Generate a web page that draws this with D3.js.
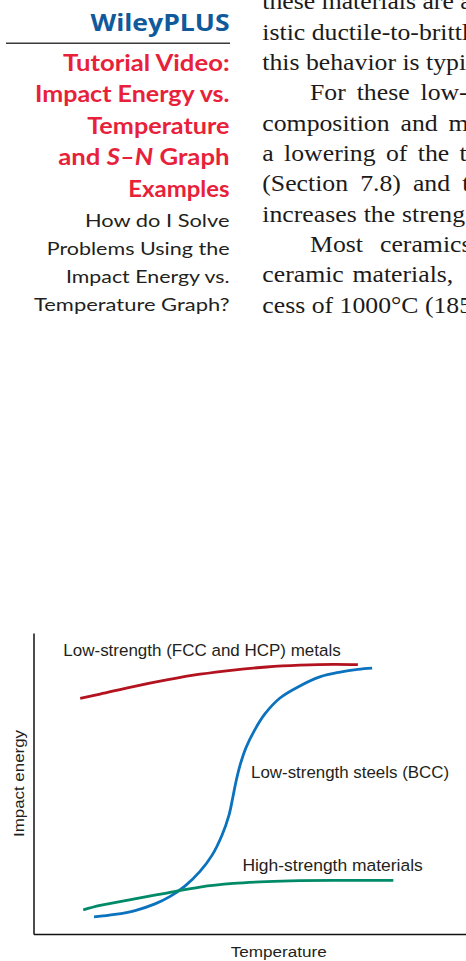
<!DOCTYPE html>
<html><head><meta charset="utf-8">
<script src="https://cdn.jsdelivr.net/npm/d3@7"></script>
<style>html,body{margin:0;padding:0;background:#fff;overflow:hidden}svg{display:block}</style>
</head><body><svg id="c" width="466" height="961"></svg>
<script>
// ---------- data ----------
const brand = "WileyPLUS";
const sidebarTitle = ["Tutorial Video:", "Impact Energy vs.", "Temperature", "and |S–N| Graph", "Examples"];
const sidebarCaption = ["How do I Solve", "Problems Using the", "Impact Energy vs.", "Temperature Graph?"];
const bodyLines = [
  "these materials are a", "istic ductile-to-brittl", "this behavior is typi",
  "For these low-", "composition and m", "a lowering of the t",
  "(Section 7.8) and t", "increases the streng", "Most ceramics",
  "ceramic materials,", "cess of 1000°C (185"
];

const seriesNames = ["Low-strength (FCC and HCP) metals", "Low-strength steels (BCC)", "High-strength materials"];
const xAxisLabel = "Temperature";
const yAxisLabel = "Impact energy";

// relative temperature / impact energy (arbitrary units, 0–100)
const fccTemp   = [10.8, 15.4, 23.1, 30.8, 38.5, 46.2, 53.9, 61.6, 69.3, 75.0];
const fccEnergy = [78.3, 79.7, 82.2, 84.4, 86.3, 87.7, 88.7, 89.3, 89.6, 89.5];

const bccTemp   = [14.0, 18.8, 23.5, 28.1, 31.6, 35.0, 38.5, 41.3, 43.6, 45.2, 46.1, 46.8, 47.7, 49.1, 51.0, 53.5, 57.0, 61.6, 66.2, 70.9, 75.0, 78.3];
const bccEnergy = [5.7, 6.5, 7.8, 10.0, 12.5, 15.9, 20.8, 26.2, 32.9, 39.5, 45.5, 50.5, 55.8, 61.8, 67.4, 73.1, 78.4, 82.4, 85.4, 87.0, 87.9, 88.3];

const hsTemp   = [11.5, 15.4, 23.1, 30.8, 38.5, 46.2, 53.9, 61.6, 69.3, 77.0, 83.2];
const hsEnergy = [8.0, 9.5, 11.6, 13.6, 15.6, 16.8, 17.4, 17.7, 17.8, 17.8, 17.8];

// ---------- layout ----------
const bodyIndent = [0, 0, 0, 47.7, 0, 0, 0, 0, 47.7, 0, 0];
const bodyWordSpacing = [0, 0, 0, 4, 4, 3.5, 5, 0.5, 9.5, 2, 0];
const titleWidths = [166.5, 194.5, 142.2, 171.2, 101.2];
const capWidths = [144.5, 182.8, 163.5, 195.5];

// ---------- drawing ----------
const svg = d3.select("#c");
svg.append("rect").attr("width", 466).attr("height", 961).attr("fill", "#fff");

// Sidebar
const side = svg.append("g");
side.append("text").text(brand)
  .attr("x", 229.5).attr("y", 30.7).attr("text-anchor", "end")
  .attr("font-family", "'Open Sans', sans-serif").attr("font-weight", 700)
  .attr("font-size", 24).attr("fill", "#10599a")
  .attr("textLength", 139).attr("lengthAdjust", "spacingAndGlyphs");
side.append("line").attr("x1", 6).attr("x2", 230).attr("y1", 43.3).attr("y2", 43.3)
  .attr("stroke", "#3a3a3a").attr("stroke-width", 1.4);

sidebarTitle.forEach((t, i) => {
  const tx = side.append("text")
    .attr("x", 229.5).attr("y", 70.7 + i * 31.5).attr("text-anchor", "end")
    .attr("font-family", "Lato, sans-serif").attr("font-weight", 700)
    .attr("font-size", 23).attr("fill", "#e8213a")
    .attr("textLength", titleWidths[i]).attr("lengthAdjust", "spacingAndGlyphs");
  t.split("|").forEach((seg, k) => {
    tx.append("tspan").text(seg).attr("font-style", k % 2 ? "italic" : "normal");
  });
});
sidebarCaption.forEach((t, i) => {
  side.append("text").text(t)
    .attr("x", 229.5).attr("y", 227.3 + i * 28).attr("text-anchor", "end")
    .attr("font-family", "Lato, sans-serif").attr("font-weight", 400)
    .attr("font-size", 17.5).attr("fill", "#231f20")
    .attr("textLength", capWidths[i]).attr("lengthAdjust", "spacingAndGlyphs");
});

// Body text column
const body = svg.append("g");
bodyLines.forEach((t, i) => {
  body.append("text").text(t)
    .attr("transform", `translate(${262.3 + bodyIndent[i]},${9.3 + i * 30.35}) scale(1.12,1)`)
    .attr("font-family", "'Liberation Serif', serif")
    .attr("font-size", 23).attr("fill", "#1c1a1a")
    .attr("word-spacing", bodyWordSpacing[i]);
});

// Chart
const x = d3.scaleLinear().domain([0, 100]).range([33.5, 466]);
const y = d3.scaleLinear().domain([0, 100]).range([934, 633]);
const chart = svg.append("g");

chart.append("g").attr("transform", `translate(0,${y(0)})`)
  .call(d3.axisBottom(x).tickValues([]).tickSizeOuter(0))
  .call(g => g.select(".domain").attr("stroke", "#111").attr("stroke-width", 1.5));
chart.append("g").attr("transform", `translate(${x(0)},0)`)
  .call(d3.axisLeft(y).tickValues([]).tickSizeOuter(0))
  .call(g => g.select(".domain").attr("stroke", "#111").attr("stroke-width", 1.5));

const series = [
  { name: seriesNames[0], t: fccTemp, e: fccEnergy, color: "#b3131f" },
  { name: seriesNames[1], t: bccTemp, e: bccEnergy, color: "#0b72bd" },
  { name: seriesNames[2], t: hsTemp,  e: hsEnergy,  color: "#008a68" }
];
const line = d3.line().x(d => x(d[0])).y(d => y(d[1])).curve(d3.curveCatmullRom.alpha(0.5));
series.forEach(s => {
  chart.append("path").datum(d3.zip(s.t, s.e))
    .attr("d", line).attr("fill", "none")
    .attr("stroke", s.color).attr("stroke-width", 2.8).attr("stroke-linecap", "butt");
});

const labelFont = "'Liberation Sans', Arial, sans-serif";
const labelSpecs = [
  { text: seriesNames[0], xv: 6.9, yv: 92.5, w: 277.4 },
  { text: seriesNames[1], xv: 50.3, yv: 51.7, w: 198 },
  { text: seriesNames[2], xv: 48.3, yv: 21.0, w: 180.4 }
];
labelSpecs.forEach(l => {
  chart.append("text").text(l.text)
    .attr("x", x(l.xv)).attr("y", y(l.yv))
    .attr("font-family", labelFont).attr("font-size", 16.3).attr("fill", "#231f20")
    .attr("textLength", l.w).attr("lengthAdjust", "spacingAndGlyphs");
});

chart.append("text").text(xAxisLabel)
  .attr("x", 278.7).attr("y", 956.7).attr("text-anchor", "middle")
  .attr("font-family", labelFont).attr("font-size", 15.5).attr("fill", "#231f20")
  .attr("textLength", 96).attr("lengthAdjust", "spacingAndGlyphs");
chart.append("text").text(yAxisLabel)
  .attr("transform", `translate(23.5,${y(50)}) rotate(-90)`).attr("text-anchor", "middle")
  .attr("font-family", labelFont).attr("font-size", 15.5).attr("fill", "#231f20")
  .attr("textLength", 107).attr("lengthAdjust", "spacingAndGlyphs");
</script>
</body></html>
